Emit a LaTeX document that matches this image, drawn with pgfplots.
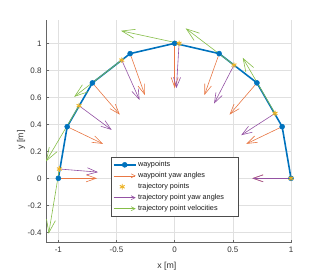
\documentclass[border=0pt]{standalone}
\usepackage{fontspec}
\setmainfont{Liberation Sans}
\usepackage{pgfplots}
\pgfplotsset{compat=1.18}
\usetikzlibrary{arrows.meta}
\definecolor{mblue}{rgb}{0,0.447,0.741}
\definecolor{morange}{rgb}{0.91,0.47,0.27}
\definecolor{myellow}{rgb}{0.929,0.694,0.125}
\definecolor{mpurple}{rgb}{0.58,0.32,0.64}
\definecolor{mgreen}{rgb}{0.52,0.74,0.28}
\pgfplotsset{
  arrowleg/.style={legend image code/.code={\draw[color=#1, line width=0.6bp, -{Straight Barb[length=4bp,width=4bp]}] (0bp,0bp) -- (22bp,0bp);}},
  wpleg/.style={legend image code/.code={\draw[color=mblue, line width=1.6bp, mark=*, mark size=2.5bp, mark options={fill=mblue, line width=0.5bp}, mark indices={2}] plot coordinates {(0bp,0bp) (11bp,0bp) (22bp,0bp)};}},
}
\begin{document}
\begin{tikzpicture}
\useasboundingbox (0bp,0bp) rectangle (327bp,273bp);
\begin{axis}[
  at={(46bp,30.3bp)}, anchor=south west,
  scale only axis, width=245bp, height=222.7bp,
  xmin=-1.106, xmax=1, ymin=-0.477, ymax=1.173,
  axis x line*=bottom, axis y line*=left,
  axis line style={black!60, line width=0.5bp},
  xtick={-1,-0.5,0,0.5,1}, xticklabels={-1,-0.5,0,0.5,1},
  ytick={-0.4,-0.2,0,0.2,0.4,0.6,0.8,1},
  yticklabels={-0.4,-0.2,0,0.2,0.4,0.6,0.8,1},
  tick align=inside, major tick length=2.5bp,
  tick style={black!60, line width=0.5bp},
  ticklabel style={font=\fontsize{8}{9}\selectfont, text=black!80},
  xticklabel style={yshift=-1bp},
  yticklabel style={xshift=-1bp},
  grid=major, major grid style={black!12, line width=0.5bp},
  xlabel={x [m]}, ylabel={y [m]},
  label style={font=\fontsize{8.8}{10}\selectfont, text=black!80},
  xlabel style={at={(axis description cs:0.493,0)}, anchor=center, yshift=-24bp},
  ylabel style={at={(axis description cs:-0.102,0.461)}, anchor=center},
  legend style={at={(axis description cs:0.264,0.383)}, anchor=north west,
    font=\fontsize{7.3}{8}\selectfont, draw=black!70, line width=0.5bp,
    inner xsep=2bp, inner ysep=2.3bp, row sep=1.2bp,
    nodes={inner sep=1.5bp, text=black!90}},
  legend cell align=left,
]
% waypoints
\addplot[color=mblue, line width=1.6bp, mark=*, mark size=2.5bp,
  mark options={fill=mblue, line width=0.5bp}, wpleg]
  coordinates {(-1,0) (-0.9239,0.3827) (-0.7071,0.7071) (-0.3827,0.9239) (0,1)
               (0.3827,0.9239) (0.7071,0.7071) (0.9239,0.3827) (1,0)};
\addlegendentry{waypoints}
% waypoint yaw angles
\addplot[color=morange, line width=0.6bp,
  quiver={u=\thisrow{u}, v=\thisrow{v}},
  -{Straight Barb[length=10bp,width=7bp]}, arrowleg=morange]
  table {
x y u v
-1 0 0.333 0
-0.9239 0.3827 0.3077 -0.1274
-0.7071 0.7071 0.2355 -0.2355
-0.3827 0.9239 0.1274 -0.3077
0 1 0 -0.333
0.3827 0.9239 -0.1274 -0.3077
0.7071 0.7071 -0.2355 -0.2355
0.9239 0.3827 -0.3077 -0.1274
1 0 -0.333 0
};
\addlegendentry{waypoint yaw angles}
% trajectory points
\addplot[only marks, color=myellow, mark=asterisk, mark size=2.8bp, mark options={line width=0.9bp}]
  coordinates {(-0.991,0.069) (-0.822,0.538) (-0.455,0.876) (0.038,1.0)
               (0.51,0.839) (0.863,0.481) (1,0)};
\addlegendentry{trajectory points}
% trajectory point yaw angles
\addplot[color=mpurple, line width=0.6bp,
  quiver={u=\thisrow{u}, v=\thisrow{v}},
  -{Straight Barb[length=10bp,width=7bp]}, arrowleg=mpurple]
  table {
x y u v
-0.991 0.069 0.3322 -0.0232
-0.822 0.538 0.2806 -0.1794
-0.455 0.876 0.1532 -0.2956
0.038 1.0 -0.0232 -0.3322
0.51 0.839 -0.1715 -0.2854
0.863 0.481 -0.2912 -0.1614
1 0 -0.333 0
};
\addlegendentry{trajectory point yaw angles}
% trajectory point velocities
\addplot[color=mgreen, line width=0.6bp,
  quiver={u=\thisrow{u}, v=\thisrow{v}},
  -{Straight Barb[length=13bp,width=9bp]}, arrowleg=mgreen]
  table {
x y u v
-0.991 0.069 -0.092 -0.479
-0.822 0.538 -0.284 -0.413
-0.455 0.876 -0.409 -0.272
0.038 1.0 -0.499 0.093
0.51 0.839 -0.415 0.272
0.863 0.481 -0.278 0.412
};
\addlegendentry{\makebox[97bp][l]{trajectory point velocities}}
\end{axis}
\end{tikzpicture}
\end{document}
